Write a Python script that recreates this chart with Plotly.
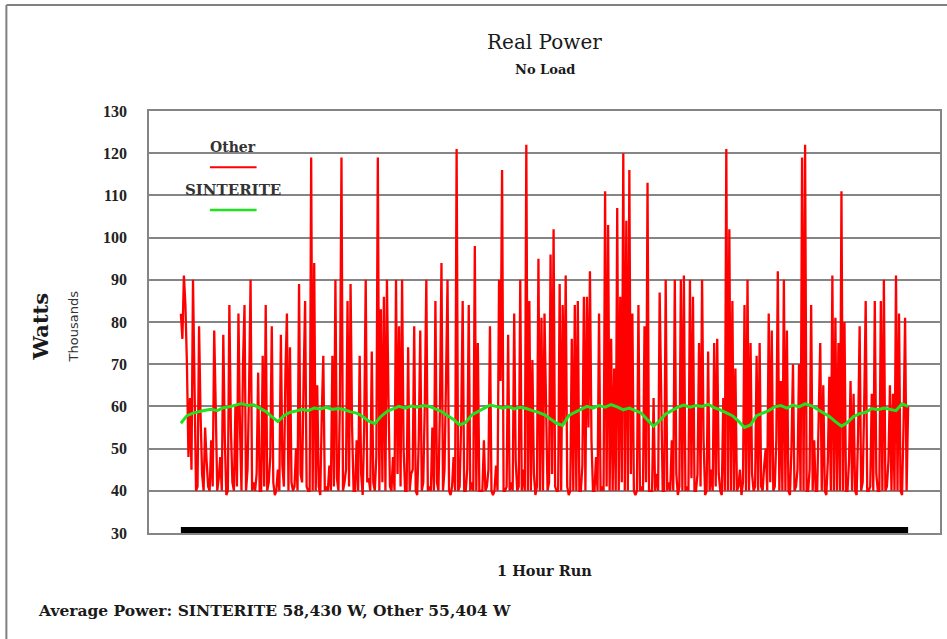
import plotly.graph_objects as go

# ---- data (thousands of watts), one sample every 7.5 s over the 1 hour run ----
other_w = [
    82, 76, 91, 84, 70, 48, 62, 45, 90, 62, 40, 41, 79, 58, 44, 40, 55, 47, 41, 40,
    52, 41, 78, 60, 40, 43, 48, 40, 77, 52, 39, 40, 84, 55, 42, 40, 60, 41, 82, 55,
    40, 70, 84, 40, 45, 64, 90, 40, 42, 40, 44, 68, 40, 40, 72, 41, 84, 40, 42, 48,
    79, 42, 39, 40, 45, 40, 77, 46, 41, 68, 82, 40, 74, 42, 40, 41, 50, 40, 89, 44,
    42, 66, 85, 41, 40, 40, 119, 40, 94, 40, 65, 41, 39, 58, 72, 40, 41, 40, 46, 40,
    72, 41, 90, 43, 40, 62, 119, 40, 42, 45, 85, 41, 89, 55, 40, 40, 52, 40, 72, 44,
    39, 55, 90, 42, 43, 40, 73, 42, 40, 48, 119, 40, 83, 42, 86, 40, 90, 62, 41, 40,
    48, 40, 90, 44, 79, 41, 90, 50, 40, 40, 74, 40, 44, 45, 79, 40, 39, 52, 78, 40,
    42, 61, 90, 40, 41, 40, 55, 40, 85, 42, 40, 60, 94, 40, 45, 66, 90, 40, 39, 41,
    48, 40, 121, 40, 41, 56, 85, 40, 40, 45, 84, 40, 42, 40, 98, 40, 75, 40, 40, 40,
    52, 40, 41, 45, 79, 40, 39, 40, 46, 40, 90, 66, 116, 40, 40, 41, 77, 40, 42, 40,
    82, 47, 40, 41, 90, 40, 45, 40, 122, 40, 85, 40, 71, 44, 39, 41, 95, 40, 81, 40,
    82, 58, 40, 42, 96, 44, 102, 41, 40, 40, 89, 40, 84, 56, 91, 41, 39, 40, 76, 40,
    84, 40, 85, 40, 40, 46, 86, 40, 86, 55, 92, 52, 40, 40, 48, 40, 82, 40, 41, 40,
    111, 41, 103, 40, 76, 40, 69, 40, 107, 40, 86, 42, 120, 40, 104, 40, 116, 44, 82, 40,
    39, 40, 84, 40, 41, 40, 79, 42, 113, 40, 40, 40, 62, 40, 44, 40, 87, 56, 40, 40,
    90, 40, 42, 40, 52, 40, 90, 44, 39, 41, 90, 40, 91, 40, 41, 40, 90, 43, 86, 40,
    40, 44, 75, 41, 90, 52, 39, 40, 73, 40, 45, 40, 75, 41, 76, 44, 40, 39, 62, 40,
    121, 40, 102, 40, 85, 40, 69, 40, 41, 45, 39, 42, 84, 40, 90, 40, 75, 44, 40, 41,
    72, 40, 75, 41, 40, 46, 50, 40, 82, 42, 78, 40, 41, 52, 92, 40, 66, 40, 90, 40,
    78, 40, 39, 50, 70, 40, 41, 45, 70, 40, 119, 40, 122, 40, 40, 45, 84, 40, 52, 40,
    40, 58, 75, 40, 65, 40, 39, 47, 67, 40, 91, 40, 81, 40, 75, 40, 111, 40, 80, 40,
    40, 47, 66, 40, 63, 40, 39, 54, 79, 40, 42, 60, 85, 40, 40, 41, 63, 40, 85, 44,
    40, 40, 85, 40, 90, 40, 41, 47, 65, 40, 63, 40, 91, 40, 82, 40, 39, 56, 81, 40,
    60]

sinterite_w = [56.0, 57.8, 58.4, 58.8, 59.1, 59.3, 59.0, 59.7, 59.9, 60.3,
               60.7, 60.2, 60.4, 59.6, 58.8, 57.6, 56.4, 57.8, 58.6, 58.9,
               59.3, 59.0, 59.6, 59.4, 59.8, 59.3, 59.5, 59.2, 58.7, 58.4,
               57.6, 56.5, 55.9, 57.6, 58.8, 59.4, 60.0, 59.6, 60.1, 59.8,
               60.2, 60.0, 59.4, 58.8, 57.8, 56.9, 55.6, 56.2, 58.0, 58.8,
               59.6, 60.3, 60.0, 59.6, 59.9, 59.4, 59.8, 59.5, 59.0, 58.6,
               58.0, 56.9, 56.0, 55.5, 57.8, 58.6, 59.4, 60.0, 59.6, 60.2,
               59.8, 60.4, 59.9, 59.2, 59.6, 59.0, 58.4, 56.8, 55.3, 56.6,
               58.2, 59.0, 59.8, 60.3, 59.8, 60.2, 60.0, 60.5, 59.7, 59.2,
               58.5, 57.8, 56.5, 55.0, 55.6, 57.8, 58.4, 59.0, 59.9, 60.2,
               59.6, 60.3, 59.9, 60.6, 60.2, 59.3, 58.6, 57.6, 56.4, 55.3,
               56.2, 57.6, 58.3, 58.6, 59.5, 59.2, 59.6, 59.3, 59.0, 60.6,
               60.0]

run_minutes = 60
other_t = [i * run_minutes / (len(other_w) - 1) for i in range(len(other_w))]
sint_t = [i * run_minutes / (len(sinterite_w) - 1) for i in range(len(sinterite_w))]
y_ticks = [30, 40, 50, 60, 70, 80, 90, 100, 110, 120, 130]

TIMES = "Liberation Serif, Times New Roman, serif"
WIDE = "DejaVu Serif, serif"
GRID = "#858585"
INK = "#1a1a1a"

fig = go.Figure()

# black run bar along the base of the chart
fig.add_trace(go.Scatter(x=[other_t[0], other_t[-1]], y=[y_ticks[0], y_ticks[0]],
                         mode="lines", line=dict(color="black", width=12),
                         cliponaxis=False, showlegend=False, hoverinfo="skip"))
fig.add_trace(go.Scatter(x=other_t, y=other_w, mode="lines", name="Other",
                         line=dict(color="#ff0000", width=2.3), showlegend=False))
fig.add_trace(go.Scatter(x=sint_t, y=sinterite_w, mode="lines", name="SINTERITE",
                         line=dict(color="#22e022", width=3), showlegend=False))

pad = 2.63
fig.update_xaxes(range=[-pad, run_minutes + pad], showgrid=False, zeroline=False,
                 showticklabels=False, ticks="", showline=True, mirror=True,
                 linecolor=GRID, linewidth=1.5)
fig.update_yaxes(range=[30, 130], tickvals=y_ticks, showgrid=True, gridcolor=GRID,
                 gridwidth=1.6, zeroline=False, showline=True, mirror=True,
                 linecolor=GRID, linewidth=1.5, ticks="", ticklabelstandoff=17,
                 tickfont=dict(family=TIMES, size=16, color="#222", weight="bold"))


def note(text, x, y, size, family=WIDE, angle=0, xanchor="center", color=INK):
    return dict(text=text, x=x, y=y, xref="paper", yref="paper", xanchor=xanchor,
                yanchor="middle", textangle=angle, showarrow=False,
                font=dict(family=family, size=size, color=color))


ann = [
    note("Real Power", 0.5, 1.1635, 20),
    note("<b>No Load</b>", 0.5, 1.0995, 13),
    note("<b>Watts</b>", -0.1375, 0.49, 21, angle=-90),
    note("Thousands", -0.0958, 0.49, 13, family="DejaVu Sans, sans-serif", angle=-90,
         color="#333"),
    note("<b>1 Hour Run</b>", 0.5, -0.090, 14.5),
    note("<b>Average Power: SINTERITE 58,430 W, Other 55,404 W</b>", -0.1425, -0.1825,
         15.5, xanchor="left"),
    note("<b>Other</b>", 0.106, 0.9147, 14, color="#333"),
    note("<b>SINTERITE</b>", 0.106, 0.8128, 15, color="#333"),
]

shapes = [
    # legend samples
    dict(type="line", xref="paper", yref="paper", x0=0.077, x1=0.136, y0=0.867, y1=0.867,
         line=dict(color="#ff0000", width=2)),
    dict(type="line", xref="paper", yref="paper", x0=0.077, x1=0.136, y0=0.7654, y1=0.7654,
         line=dict(color="#22e022", width=2.5)),
    # outer frame
    dict(type="line", xref="paper", yref="paper", x0=-0.1803, x1=-0.1803, y0=1.2512, y1=-0.3,
         line=dict(color="#808080", width=2)),
    dict(type="line", xref="paper", yref="paper", x0=-0.1803, x1=1.01, y0=1.2512, y1=1.2512,
         line=dict(color="#808080", width=2)),
]

fig.update_layout(width=947, height=639, margin=dict(l=149, r=5, t=111, b=106),
                  paper_bgcolor="white", plot_bgcolor="white",
                  annotations=ann, shapes=shapes, showlegend=False)

fig.write_html("out.html", config={"displayModeBar": False},
               post_script="document.body.style.margin='0px';")
